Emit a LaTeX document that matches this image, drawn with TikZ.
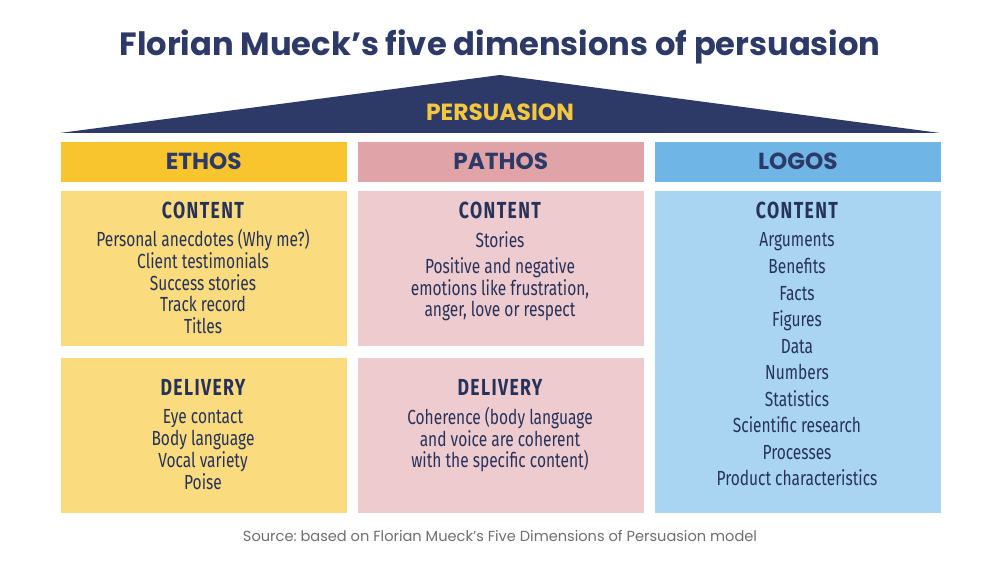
\documentclass[tikz,border=0pt]{standalone}
\usepackage{fontspec}
\setmainfont{Poppins}
\newfontfamily\dinfont[FakeStretch=0.76]{Fira Sans}
\newfontfamily\dinhead[FakeStretch=0.76,LetterSpace=6]{Fira Sans}
\usepackage{xcolor}
\definecolor{navy}{RGB}{45,58,104}
\definecolor{ink}{RGB}{39,50,90}
\definecolor{gold}{RGB}{243,199,63}
\definecolor{ethosD}{RGB}{248,197,47}
\definecolor{ethosL}{RGB}{250,219,125}
\definecolor{pathosD}{RGB}{224,164,168}
\definecolor{pathosL}{RGB}{238,203,207}
\definecolor{logosD}{RGB}{111,181,229}
\definecolor{logosL}{RGB}{169,213,242}
\definecolor{srcgrey}{RGB}{110,110,110}
\tikzset{
  hdr/.style={anchor=north west,minimum width=2.86cm,minimum height=0.40cm,inner sep=0pt,text=navy,font=\fontsize{6.6}{7}\selectfont\bfseries},
  panel/.style={anchor=north west,minimum width=2.86cm,inner sep=0pt},
  sub/.style={anchor=base,inner sep=0pt,text=ink,font=\dinhead\fontsize{6.6}{7}\selectfont\bfseries},
  item/.style={anchor=base,inner sep=0pt,text=ink,font=\dinfont\fontsize{5.8}{6}\selectfont}
}

\begin{document}
\begin{tikzpicture}[x=0.01cm,y=-0.01cm]
\useasboundingbox (0,0) rectangle (1000,562);
\node[anchor=base,inner sep=0pt,text=navy,font=\fontsize{9.15}{12}\selectfont\bfseries] (title) at (500,56) {Florian Mueck’s five dimensions of persuasion};
\fill[navy] (60,133) -- (500,75) -- (940,133) -- cycle;
\node[anchor=base,inner sep=0pt,text=gold,font=\fontsize{6.65}{7}\selectfont\bfseries] (roof) at (500,121) {PERSUASION};
% columns
\node[hdr,fill=ethosD] (ethos) at (60,141) {ETHOS};
\node[hdr,fill=pathosD] (pathos) at (357,141) {PATHOS};
\node[hdr,fill=logosD] (logos) at (654,141) {LOGOS};
\node[panel,fill=ethosL,minimum height=1.55cm] (ethosC) at (60,190) {};
\node[panel,fill=ethosL,minimum height=1.55cm] (ethosD) at (60,357) {};
\node[panel,fill=pathosL,minimum height=1.55cm] (pathosC) at (357,190) {};
\node[panel,fill=pathosL,minimum height=1.55cm] (pathosD) at (357,357) {};
\node[panel,fill=logosL,minimum height=3.22cm] (logosC) at (654,190) {};
% ethos
\node[sub] (ethosCh) at (203,219) {CONTENT};
\foreach \t [count=\i from 0] in {Personal anecdotes (Why me?),Client testimonials,Success stories,Track record,Titles}
  \node[item] (ec\i) at (203,{247+21.6*\i}) {\t};
\node[sub] (ethosDh) at (203,396) {DELIVERY};
\foreach \t [count=\i from 0] in {Eye contact,Body language,Vocal variety,Poise}
  \node[item] (ed\i) at (203,{424+22*\i}) {\t};
% pathos
\node[sub] (pathosCh) at (500,219) {CONTENT};
\node[item] (pc0) at (500,248) {Stories};
\foreach \t [count=\i from 1] in {Positive and negative,{emotions like frustration,},{anger, love or respect}}
  \node[item] (pc\i) at (500,{274+21.5*(\i-1)}) {\t};
\node[sub] (pathosDh) at (500,396) {DELIVERY};
\foreach \t [count=\i from 0] in {Coherence (body language,and voice are coherent,with the specific content)}
  \node[item] (pd\i) at (500,{425+21.5*\i}) {\t};
% logos
\node[sub] (logosCh) at (797,219) {CONTENT};
\foreach \t [count=\i from 0] in {Arguments,Benefits,Facts,Figures,Data,Numbers,Statistics,Scientific research,Processes,Product characteristics}
  \node[item] (lc\i) at (797,{247+26.55*\i}) {\t};
\node[anchor=base,inner sep=0pt,text=srcgrey,font=\fontsize{4.15}{5}\selectfont\frenchspacing] (src) at (500,542) {Source: based on Florian Mueck’s Five Dimensions of Persuasion model};
\end{tikzpicture}
\end{document}
